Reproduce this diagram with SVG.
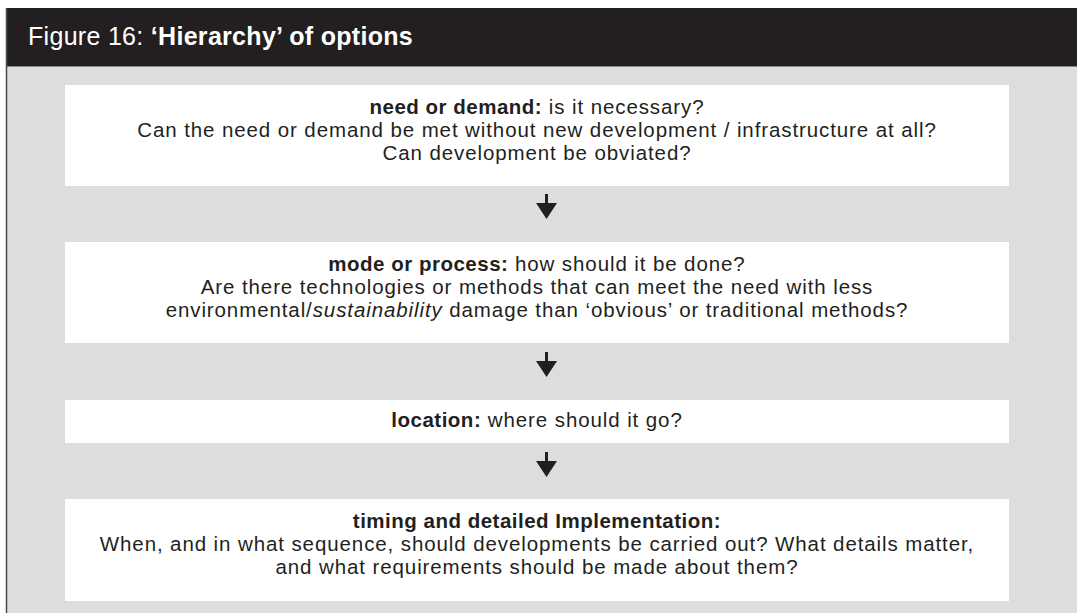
<svg xmlns="http://www.w3.org/2000/svg" width="1077" height="613" viewBox="0 0 1077 613">
<style>
.t{font-family:"Liberation Sans",Arial,sans-serif;font-size:20.5px;letter-spacing:0.9px;fill:#231f20;text-anchor:middle}
.b{font-weight:bold;letter-spacing:0.5px}
.box{fill:#ffffff}
.arr{fill:#231f20}
</style>
<rect x="0" y="0" width="1077" height="613" fill="#ffffff"/>
<g id="frame">
<rect x="6" y="66" width="1071" height="547" fill="#dcdddf"/>
<rect x="6" y="8" width="1071" height="58" fill="#231f20"/>
<line x1="6" y1="66.5" x2="1077" y2="66.5" stroke="#8a8a8a" stroke-width="1"/>
<line x1="6.5" y1="8" x2="6.5" y2="613" stroke="#4a4a4a" stroke-width="1.5"/>
<text x="28" y="45" font-family="Liberation Sans, Arial, sans-serif" font-size="25" letter-spacing="0.3" fill="#ffffff">Figure 16: <tspan font-weight="bold">‘Hierarchy’ of options</tspan></text>
</g>
<g id="node-need">
<rect class="box" x="65" y="85" width="944" height="101"/>
<text class="t" x="537" y="114"><tspan class="b">need or demand:</tspan> is it necessary?</text>
<text class="t" x="537" y="137">Can the need or demand be met without new development / infrastructure at all?</text>
<text class="t" x="537" y="160">Can development be obviated?</text>
</g>
<g id="node-mode">
<rect class="box" x="65" y="242" width="944" height="101"/>
<text class="t" x="537" y="271"><tspan class="b">mode or process:</tspan> how should it be done?</text>
<text class="t" x="537" y="294">Are there technologies or methods that can meet the need with less</text>
<text class="t" x="537" y="317">environmental/<tspan font-style="italic">sustainability</tspan> damage than ‘obvious’ or traditional methods?</text>
</g>
<g id="node-location">
<rect class="box" x="65" y="400" width="944" height="43"/>
<text class="t" x="537" y="427"><tspan class="b">location:</tspan> where should it go?</text>
</g>
<g id="node-timing">
<rect class="box" x="65" y="499" width="944" height="102"/>
<text class="t" x="537" y="528"><tspan class="b">timing and detailed Implementation:</tspan></text>
<text class="t" x="537" y="551">When, and in what sequence, should developments be carried out? What details matter,</text>
<text class="t" x="537" y="574">and what requirements should be made about them?</text>
</g>
<g id="connectors">
<rect class="arr" x="545" y="194" width="3" height="10"/>
<polygon class="arr" points="536,203 557,203 546.5,219"/>
<rect class="arr" x="545" y="352" width="3" height="10"/>
<polygon class="arr" points="536,361 557,361 546.5,377"/>
<rect class="arr" x="545" y="452" width="3" height="10"/>
<polygon class="arr" points="536,461 557,461 546.5,477"/>
</g>
</svg>
